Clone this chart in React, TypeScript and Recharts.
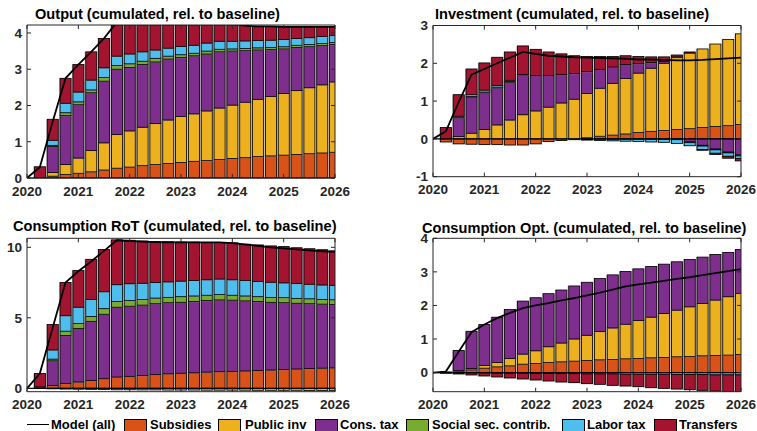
import React from 'react';
import { ComposedChart, Bar, Line, XAxis, YAxis, ReferenceLine } from 'recharts';

// quarterly dates, 2020Q1 .. 2026Q1
const quarters = [
  2020, 2020.25, 2020.5, 2020.75, 2021, 2021.25, 2021.5, 2021.75, 2022, 2022.25, 2022.5, 2022.75,
  2023, 2023.25, 2023.5, 2023.75, 2024, 2024.25, 2024.5, 2024.75, 2025, 2025.25, 2025.5, 2025.75, 2026,
];
const yearTicks = [2020, 2021, 2022, 2023, 2024, 2025, 2026];

// Output
const outSub = [0, 0.01, 0.05, 0.10, 0.13, 0.17, 0.22, 0.27, 0.30, 0.34, 0.37, 0.40, 0.43, 0.46, 0.48, 0.51, 0.54, 0.56, 0.59, 0.61, 0.63, 0.65, 0.67, 0.69, 0.71];
const outPub = [0, 0, 0.10, 0.27, 0.42, 0.59, 0.75, 0.93, 1.00, 1.06, 1.13, 1.20, 1.27, 1.31, 1.37, 1.42, 1.47, 1.53, 1.58, 1.64, 1.70, 1.76, 1.82, 1.88, 1.94];
const outCons = [0, 0, 0.72, 1.35, 1.47, 1.59, 1.70, 1.80, 1.75, 1.73, 1.70, 1.68, 1.62, 1.60, 1.57, 1.55, 1.49, 1.42, 1.36, 1.29, 1.23, 1.19, 1.13, 1.08, 1.03];
const outSoc = [0, 0, 0.03, 0.08, 0.08, 0.08, 0.10, 0.10, 0.10, 0.09, 0.10, 0.08, 0.08, 0.07, 0.08, 0.07, 0.06, 0.06, 0.06, 0.06, 0.06, 0.06, 0.06, 0.06, 0.06];
const outLab = [0, 0, 0.14, 0.26, 0.27, 0.27, 0.27, 0.26, 0.27, 0.26, 0.23, 0.22, 0.23, 0.22, 0.22, 0.22, 0.21, 0.21, 0.20, 0.20, 0.20, 0.19, 0.19, 0.19, 0.19];
const outTr = [0, 0.30, 0.58, 0.69, 0.76, 0.78, 0.81, 0.95, 0.95, 0.90, 0.85, 0.80, 0.72, 0.66, 0.58, 0.50, 0.48, 0.42, 0.39, 0.38, 0.35, 0.32, 0.30, 0.27, 0.24];
const outModel = [0, 0.30, 1.55, 2.75, 3.13, 3.48, 3.85, 4.30, 4.37, 4.38, 4.38, 4.38, 4.35, 4.32, 4.30, 4.27, 4.25, 4.20, 4.18, 4.18, 4.17, 4.17, 4.17, 4.17, 4.17];

// Investment
const invSub = [0, -0.08, -0.13, -0.14, -0.15, -0.15, -0.16, -0.16, -0.13, -0.07, -0.04, -0.02, 0.03, 0.07, 0.10, 0.13, 0.17, 0.20, 0.22, 0.25, 0.27, 0.30, 0.33, 0.35, 0.38];
const invPub = [0, 0, 0.06, 0.15, 0.25, 0.37, 0.50, 0.64, 0.74, 0.84, 0.95, 1.05, 1.17, 1.27, 1.37, 1.47, 1.57, 1.67, 1.78, 1.90, 2.00, 2.08, 2.18, 2.28, 2.40];
const invCons = [0, 0, 0.50, 0.95, 0.97, 0.98, 1.00, 1.04, 0.94, 0.84, 0.75, 0.68, 0.58, 0.50, 0.43, 0.37, 0.25, 0.15, 0.05, 0.02, -0.08, -0.17, -0.27, -0.35, -0.42];
const invSoc = [0, 0, 0.02, 0.02, 0.02, 0.02, 0.02, 0.01, 0, 0, 0, 0, -0.01, -0.01, -0.01, -0.01, -0.01, -0.01, -0.01, -0.02, -0.02, -0.02, -0.02, -0.02, -0.03];
const invLab = [0, 0, 0.02, 0.05, 0.05, 0.04, 0.03, 0.01, 0, 0, 0, 0, -0.02, -0.03, -0.04, -0.05, -0.06, -0.07, -0.08, -0.10, -0.08, -0.09, -0.09, -0.09, -0.07];
const invTr = [0, 0.30, 0.57, 0.68, 0.72, 0.75, 0.75, 0.76, 0.69, 0.62, 0.55, 0.47, 0.40, 0.34, 0.28, 0.23, 0.19, 0.15, 0.12, 0.05, 0.03, -0.02, -0.03, -0.05, -0.06];
const invModel = [0, 0.20, 0.97, 1.70, 1.85, 2.00, 2.15, 2.30, 2.25, 2.20, 2.18, 2.16, 2.15, 2.14, 2.13, 2.12, 2.10, 2.10, 2.09, 2.08, 2.08, 2.09, 2.11, 2.13, 2.15];

// Consumption, rule-of-thumb households
const rotSub = [0, 0.05, 0.20, 0.35, 0.45, 0.55, 0.68, 0.80, 0.85, 0.90, 0.97, 1.03, 1.07, 1.10, 1.15, 1.18, 1.20, 1.23, 1.27, 1.30, 1.33, 1.37, 1.40, 1.43, 1.45];
const rotPub = [0, 0, -0.03, -0.05, -0.06, -0.07, -0.08, -0.10, -0.10, -0.11, -0.11, -0.12, -0.12, -0.12, -0.13, -0.13, -0.13, -0.13, -0.14, -0.14, -0.14, -0.14, -0.15, -0.15, -0.15];
const rotCons = [0, 0.05, 1.75, 3.40, 3.80, 4.20, 4.57, 4.95, 4.97, 5.00, 5.03, 5.04, 5.03, 5.05, 5.07, 5.09, 5.05, 4.97, 4.88, 4.80, 4.74, 4.66, 4.60, 4.54, 4.50];
const rotSoc = [0, 0, 0.12, 0.30, 0.35, 0.35, 0.40, 0.40, 0.40, 0.40, 0.40, 0.38, 0.40, 0.40, 0.38, 0.38, 0.35, 0.35, 0.35, 0.35, 0.36, 0.35, 0.35, 0.33, 0.33];
const rotLab = [0, 0, 0.65, 1.10, 1.15, 1.20, 1.20, 1.20, 1.20, 1.15, 1.10, 1.10, 1.10, 1.10, 1.10, 1.10, 1.10, 1.10, 1.08, 1.07, 1.05, 1.05, 1.03, 1.03, 1.02];
const rotTr = [0, 0.95, 1.80, 2.35, 2.60, 2.85, 3.00, 3.18, 3.08, 3.00, 2.90, 2.85, 2.78, 2.72, 2.65, 2.60, 2.62, 2.57, 2.59, 2.58, 2.57, 2.54, 2.52, 2.50, 2.45];
const rotModel = [0, 1.05, 4.30, 7.50, 8.30, 9.00, 9.75, 10.50, 10.45, 10.40, 10.37, 10.35, 10.35, 10.35, 10.35, 10.35, 10.30, 10.20, 10.10, 10.00, 9.92, 9.85, 9.78, 9.72, 9.68];

// Consumption, optimizing households
const optSub = [0, 0, 0.04, 0.08, 0.13, 0.17, 0.20, 0.25, 0.27, 0.30, 0.32, 0.34, 0.36, 0.38, 0.39, 0.41, 0.42, 0.44, 0.45, 0.47, 0.48, 0.50, 0.51, 0.52, 0.54];
const optPub = [0, 0, 0.02, 0.04, 0.08, 0.13, 0.22, 0.30, 0.38, 0.47, 0.56, 0.66, 0.75, 0.84, 0.94, 1.03, 1.13, 1.21, 1.31, 1.39, 1.48, 1.56, 1.65, 1.74, 1.82];
const optCons = [0, 0.02, 0.60, 1.11, 1.22, 1.35, 1.46, 1.58, 1.58, 1.58, 1.58, 1.58, 1.58, 1.58, 1.58, 1.57, 1.54, 1.51, 1.47, 1.44, 1.41, 1.38, 1.36, 1.32, 1.31];
const optSoc = [0, 0, 0, 0, 0, 0, 0, 0, 0, 0, 0, 0, 0, 0, 0, 0, 0, 0, 0, 0, 0, 0, 0, 0, 0];
const optLab = [0, 0, -0.01, -0.01, -0.01, -0.02, -0.02, -0.02, -0.03, -0.03, -0.03, -0.03, -0.04, -0.04, -0.04, -0.05, -0.05, -0.05, -0.05, -0.06, -0.06, -0.06, -0.07, -0.07, -0.07];
const optTr = [0, -0.02, -0.03, -0.06, -0.09, -0.11, -0.14, -0.17, -0.19, -0.22, -0.25, -0.27, -0.29, -0.31, -0.34, -0.35, -0.37, -0.40, -0.42, -0.43, -0.45, -0.47, -0.48, -0.49, -0.51];
const optModel = [0, 0.03, 0.62, 1.20, 1.43, 1.62, 1.78, 1.92, 2.00, 2.07, 2.15, 2.22, 2.30, 2.38, 2.47, 2.57, 2.63, 2.68, 2.73, 2.79, 2.84, 2.90, 2.96, 3.02, 3.08];

const SERIES = [
  { key: 'sub', name: 'Subsidies', color: '#D95319' },
  { key: 'pub', name: 'Public inv', color: '#EDB120' },
  { key: 'cons', name: 'Cons. tax', color: '#7E2F8E' },
  { key: 'soc', name: 'Social sec. contrib.', color: '#77AC30' },
  { key: 'lab', name: 'Labor tax', color: '#4DBEEE' },
  { key: 'tr', name: 'Transfers', color: '#A2142F' },
];

const FONT = '"Liberation Sans", Arial, Helvetica, sans-serif';
const AXIS = '#262626';
const PANEL_H = 222;

function rows(sub: number[], pub: number[], cons: number[], soc: number[], lab: number[], tr: number[], model: number[]) {
  return quarters.map((q, i) => ({
    q, sub: sub[i], pub: pub[i], cons: cons[i], soc: soc[i], lab: lab[i], tr: tr[i], model: model[i],
  }));
}

// bar segment with a soft grey rim, like the exported figure
const RimBar = (props: any) => {
  const { x, y, width, height, fill } = props;
  if (!width || !height) return <g />;
  const top = height < 0 ? y + height : y;
  const h = Math.abs(height);
  return (
    <g>
      <rect x={x - 1.1} y={top} width={width + 1.8} height={h + 0.6} fill="#9e9e9e" fillOpacity={0.75} />
      <rect x={x} y={top} width={width} height={h} fill={fill} stroke="#000" strokeWidth={0.8} />
    </g>
  );
};

interface PanelProps {
  title: string;
  data: any[];
  domain: [number, number];
  ticks: number[];
  left: number;
  top: number;
  width: number;
  plotLeft: number;
  plotRight: number;
  plotTop: number;
  plotBottom: number;
  titleLeft: number;
  titleTop: number;
}

const Panel: React.FC<PanelProps> = (p) => {
  const xAxisH = PANEL_H - p.plotBottom;
  const tickX = (props: any) => {
    const { x, payload } = props;
    return (
      <g>
        <line x1={x} x2={x} y1={p.plotBottom} y2={p.plotBottom - 4} stroke={AXIS} />
        <line x1={x} x2={x} y1={p.plotTop} y2={p.plotTop + 4} stroke={AXIS} />
        <text x={x} y={p.plotBottom + 8} dy="0.71em" textAnchor="middle" fontSize={13.5}
          fontWeight="bold" fill={AXIS} fontFamily={FONT}>{payload.value}</text>
      </g>
    );
  };
  const tickY = (props: any) => {
    const { y, payload } = props;
    return (
      <g>
        <line x1={p.plotLeft} x2={p.plotLeft + 4} y1={y} y2={y} stroke={AXIS} />
        <line x1={p.plotRight} x2={p.plotRight - 4} y1={y} y2={y} stroke={AXIS} />
        <text x={p.plotLeft - 5} y={y} dy="0.355em" textAnchor="end" fontSize={13.5}
          fontWeight="bold" fill={AXIS} fontFamily={FONT}>{payload.value}</text>
      </g>
    );
  };
  return (
    <div style={{ position: 'absolute', left: p.left, top: p.top, width: p.width, height: PANEL_H }}>
      <div style={{
        position: 'absolute', left: p.titleLeft, top: p.titleTop, whiteSpace: 'nowrap',
        fontFamily: FONT, fontWeight: 'bold', fontSize: 14.6, lineHeight: '15px', color: '#000',
      }}>{p.title}</div>
      <ComposedChart
        width={p.width}
        height={PANEL_H}
        data={p.data}
        stackOffset="sign"
        margin={{ top: p.plotTop, right: p.width - p.plotRight, bottom: 0, left: 0 }}
      >
        <XAxis dataKey="q" type="number" domain={[2020, 2026]} ticks={yearTicks} allowDataOverflow
          height={xAxisH} tickSize={0} tickLine={false} tick={tickX} stroke={AXIS} interval={0} />
        <YAxis type="number" domain={p.domain} ticks={p.ticks} allowDataOverflow width={p.plotLeft}
          tickSize={0} tickLine={false} tick={tickY} stroke={AXIS} interval={0} />
        {SERIES.map((s) => (
          <Bar key={s.key} dataKey={s.key} stackId="a" fill={s.color} barSize={11}
            shape={RimBar} isAnimationActive={false} />
        ))}
        <ReferenceLine y={0} stroke="#000" strokeWidth={1.2} />
        <Line dataKey="model" type="linear" stroke="#000" strokeWidth={1.8} dot={false}
          isAnimationActive={false} />
        <ReferenceLine y={p.domain[1]} stroke={AXIS} strokeWidth={1} />
        <ReferenceLine x={2026} stroke={AXIS} strokeWidth={1} />
      </ComposedChart>
    </div>
  );
};

const LegendSwatch: React.FC<{ left: number; color: string }> = ({ left, color }) => (
  <div style={{
    position: 'absolute', left, top: 419, width: 23, height: 14, background: color,
    border: '1px solid #000', boxSizing: 'border-box',
  }} />
);

const LegendText: React.FC<{ left: number; text: string }> = ({ left, text }) => (
  <div style={{
    position: 'absolute', left, top: 417, fontFamily: FONT, fontWeight: 'bold', fontSize: 13,
    lineHeight: '15px', color: '#000', whiteSpace: 'nowrap',
  }}>{text}</div>
);

export default function App() {
  const outData = rows(outSub, outPub, outCons, outSoc, outLab, outTr, outModel);
  const invData = rows(invSub, invPub, invCons, invSoc, invLab, invTr, invModel);
  const rotData = rows(rotSub, rotPub, rotCons, rotSoc, rotLab, rotTr, rotModel);
  const optData = rows(optSub, optPub, optCons, optSoc, optLab, optTr, optModel);

  const legendPos = [
    { swatch: 124, text: 150 },
    { swatch: 218, text: 245 },
    { swatch: 315, text: 340 },
    { swatch: 406, text: 432 },
    { swatch: 562, text: 587 },
    { swatch: 654, text: 679 },
  ];

  return (
    <div style={{ position: 'absolute', left: 0, top: 0, width: 757, height: 431, overflow: 'hidden', background: '#fff' }}>
      <Panel title="Output (cumulated, rel. to baseline)" data={outData} domain={[0, 4.22]} ticks={[0, 1, 2, 3, 4]}
        left={0} top={0} width={380} plotLeft={27} plotRight={335} plotTop={25} plotBottom={178}
        titleLeft={35} titleTop={7} />
      <Panel title="Investment (cumulated, rel. to baseline)" data={invData} domain={[-1, 3]} ticks={[-1, 0, 1, 2, 3]}
        left={380} top={0} width={377} plotLeft={53} plotRight={361} plotTop={25.5} plotBottom={176.7}
        titleLeft={55} titleTop={6.5} />
      <Panel title="Consumption RoT (cumulated, rel. to baseline)" data={rotData} domain={[-0.24, 10.64]} ticks={[0, 5, 10]}
        left={0} top={205} width={380} plotLeft={27} plotRight={335} plotTop={33.3} plotBottom={186.7}
        titleLeft={13} titleTop={14} />
      <Panel title="Consumption Opt. (cumulated, rel. to baseline)" data={optData} domain={[-0.57, 4]} ticks={[0, 1, 2, 3, 4]}
        left={380} top={205} width={377} plotLeft={53} plotRight={361} plotTop={33.3} plotBottom={186.7}
        titleLeft={42} titleTop={15.5} />

      <div style={{ position: 'absolute', left: 27, top: 423.5, width: 22, height: 1.6, background: '#000' }} />
      <LegendText left={51} text="Model (all)" />
      {SERIES.map((s, i) => (
        <React.Fragment key={s.key}>
          <LegendSwatch left={legendPos[i].swatch} color={s.color} />
          <LegendText left={legendPos[i].text} text={s.name} />
        </React.Fragment>
      ))}
    </div>
  );
}
